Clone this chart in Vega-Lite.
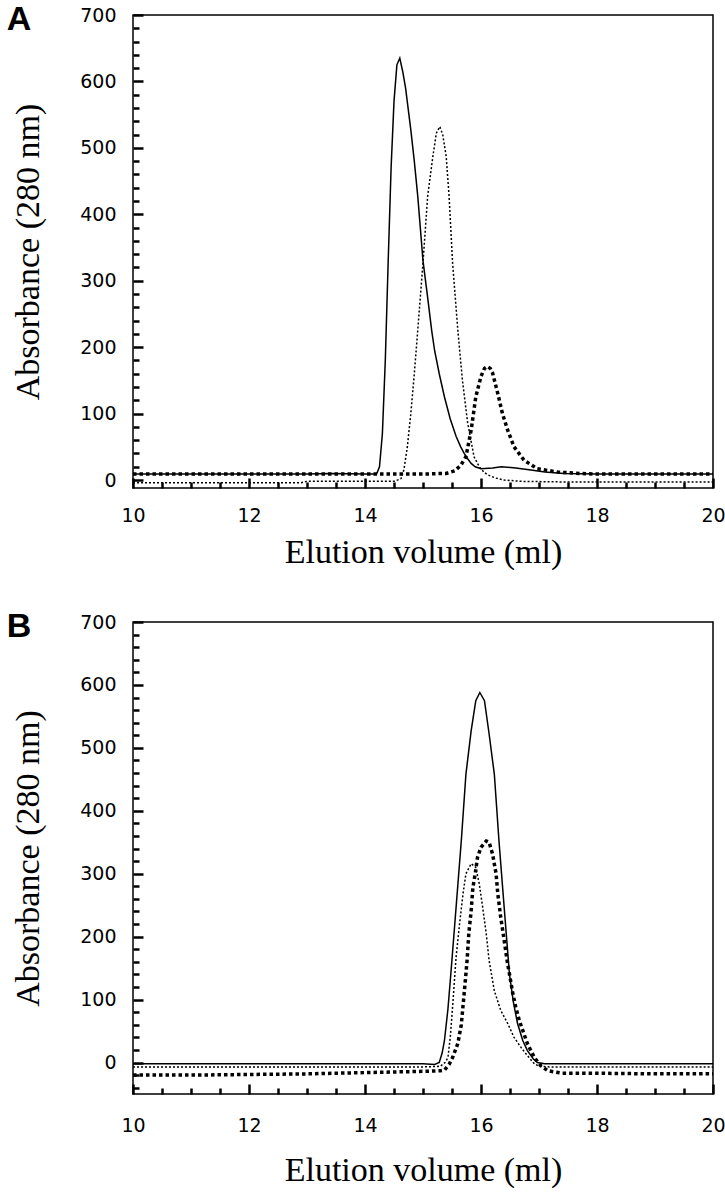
{
  "$schema": "https://vega.github.io/schema/vega-lite/v6.json",
  "padding": {"left": 5, "top": 2, "right": 0, "bottom": 0},
  "background": "white",
  "spacing": 39,
  "config": {
    "view": {"stroke": "black", "strokeWidth": 1.5},
    "axis": {"domain": false, "grid": false, "ticks": true, "tickColor": "black", "tickWidth": 2.5, "tickOpacity": 1, "labelColor": "black", "labelFont": "DejaVu Sans", "labelFontSize": 19, "titleFont": "Liberation Serif", "titleFontSize": 34, "titleFontWeight": "normal", "titleColor": "black", "labelFlush": false, "labelOverlap": false, "labelBound": false, "zindex": 2},
    "title": {"font": "Liberation Sans", "fontSize": 34, "fontWeight": "bold", "color": "black", "anchor": "start", "frame": "bounds", "offset": 6, "dx": -5, "dy": 37}
  },
  "datasets": {
    "a": [
      {"s":"solid","x":10,"y":9},{"s":"solid","x":11,"y":9},{"s":"solid","x":12,"y":9},{"s":"solid","x":13,"y":9},{"s":"solid","x":13.4,"y":10},{"s":"solid","x":13.7,"y":9.5},{"s":"solid","x":14,"y":9},{"s":"solid","x":14.2,"y":9},{"s":"solid","x":14.25,"y":20},{"s":"solid","x":14.3,"y":70},{"s":"solid","x":14.35,"y":180},{"s":"solid","x":14.4,"y":330},{"s":"solid","x":14.45,"y":470},{"s":"solid","x":14.5,"y":570},{"s":"solid","x":14.55,"y":625},{"s":"solid","x":14.6,"y":635},{"s":"solid","x":14.65,"y":615},{"s":"solid","x":14.7,"y":590},{"s":"solid","x":14.75,"y":555},{"s":"solid","x":14.79,"y":527},{"s":"solid","x":14.85,"y":480},{"s":"solid","x":14.91,"y":427},{"s":"solid","x":15.0,"y":330},{"s":"solid","x":15.08,"y":275},{"s":"solid","x":15.15,"y":225},{"s":"solid","x":15.2,"y":195},{"s":"solid","x":15.28,"y":160},{"s":"solid","x":15.37,"y":125},{"s":"solid","x":15.47,"y":92},{"s":"solid","x":15.57,"y":66},{"s":"solid","x":15.65,"y":50},{"s":"solid","x":15.71,"y":40},{"s":"solid","x":15.77,"y":32},{"s":"solid","x":15.83,"y":25},{"s":"solid","x":15.9,"y":20},{"s":"solid","x":16.0,"y":17},{"s":"solid","x":16.2,"y":18},{"s":"solid","x":16.35,"y":20},{"s":"solid","x":16.6,"y":18},{"s":"solid","x":16.86,"y":15},{"s":"solid","x":17.1,"y":12},{"s":"solid","x":17.43,"y":10},{"s":"solid","x":18,"y":9},{"s":"solid","x":19,"y":9},{"s":"solid","x":20,"y":9},
      {"s":"dotted","x":10,"y":-4},{"s":"dotted","x":11,"y":-4},{"s":"dotted","x":12,"y":-4},{"s":"dotted","x":12.9,"y":-4},{"s":"dotted","x":13.0,"y":-2},{"s":"dotted","x":14,"y":-2},{"s":"dotted","x":14.5,"y":-2},{"s":"dotted","x":14.62,"y":2},{"s":"dotted","x":14.67,"y":15},{"s":"dotted","x":14.73,"y":50},{"s":"dotted","x":14.79,"y":100},{"s":"dotted","x":14.85,"y":160},{"s":"dotted","x":14.91,"y":226},{"s":"dotted","x":15.0,"y":327},{"s":"dotted","x":15.08,"y":427},{"s":"dotted","x":15.17,"y":487},{"s":"dotted","x":15.23,"y":522},{"s":"dotted","x":15.29,"y":532},{"s":"dotted","x":15.34,"y":520},{"s":"dotted","x":15.4,"y":487},{"s":"dotted","x":15.45,"y":427},{"s":"dotted","x":15.51,"y":327},{"s":"dotted","x":15.6,"y":226},{"s":"dotted","x":15.68,"y":150},{"s":"dotted","x":15.77,"y":86},{"s":"dotted","x":15.88,"y":35},{"s":"dotted","x":15.97,"y":20},{"s":"dotted","x":16.05,"y":12},{"s":"dotted","x":16.11,"y":8},{"s":"dotted","x":16.25,"y":3},{"s":"dotted","x":16.4,"y":0},{"s":"dotted","x":16.7,"y":-2},{"s":"dotted","x":17.5,"y":-3},{"s":"dotted","x":20,"y":-3},
      {"s":"thick","x":10,"y":9},{"s":"thick","x":12,"y":9},{"s":"thick","x":14,"y":9},{"s":"thick","x":15,"y":9},{"s":"thick","x":15.4,"y":10},{"s":"thick","x":15.55,"y":14},{"s":"thick","x":15.65,"y":22},{"s":"thick","x":15.74,"y":35},{"s":"thick","x":15.83,"y":75},{"s":"thick","x":15.91,"y":125},{"s":"thick","x":16.0,"y":156},{"s":"thick","x":16.06,"y":168},{"s":"thick","x":16.11,"y":171},{"s":"thick","x":16.16,"y":168},{"s":"thick","x":16.2,"y":161},{"s":"thick","x":16.29,"y":130},{"s":"thick","x":16.37,"y":100},{"s":"thick","x":16.46,"y":75},{"s":"thick","x":16.57,"y":50},{"s":"thick","x":16.74,"y":30},{"s":"thick","x":16.97,"y":17},{"s":"thick","x":17.32,"y":12},{"s":"thick","x":17.7,"y":10},{"s":"thick","x":18,"y":9},{"s":"thick","x":20,"y":9}
    ],
    "b": [
      {"s":"solid","x":10,"y":-2},{"s":"solid","x":12,"y":-2},{"s":"solid","x":14,"y":-2},{"s":"solid","x":15,"y":-2},{"s":"solid","x":15.2,"y":-3},{"s":"solid","x":15.28,"y":0},{"s":"solid","x":15.33,"y":15},{"s":"solid","x":15.37,"y":35},{"s":"solid","x":15.43,"y":85},{"s":"solid","x":15.48,"y":141},{"s":"solid","x":15.57,"y":246},{"s":"solid","x":15.66,"y":352},{"s":"solid","x":15.74,"y":458},{"s":"solid","x":15.83,"y":527},{"s":"solid","x":15.91,"y":575},{"s":"solid","x":15.98,"y":588},{"s":"solid","x":16.06,"y":575},{"s":"solid","x":16.14,"y":522},{"s":"solid","x":16.23,"y":458},{"s":"solid","x":16.31,"y":352},{"s":"solid","x":16.4,"y":246},{"s":"solid","x":16.49,"y":141},{"s":"solid","x":16.56,"y":95},{"s":"solid","x":16.63,"y":62},{"s":"solid","x":16.72,"y":35},{"s":"solid","x":16.8,"y":19},{"s":"solid","x":16.9,"y":6},{"s":"solid","x":16.97,"y":0},{"s":"solid","x":17.1,"y":-2},{"s":"solid","x":18,"y":-2},{"s":"solid","x":20,"y":-2},
      {"s":"dotted","x":10,"y":-7},{"s":"dotted","x":12,"y":-7},{"s":"dotted","x":14,"y":-7},{"s":"dotted","x":15,"y":-7},{"s":"dotted","x":15.3,"y":-6},{"s":"dotted","x":15.38,"y":0},{"s":"dotted","x":15.43,"y":8},{"s":"dotted","x":15.47,"y":40},{"s":"dotted","x":15.51,"y":88},{"s":"dotted","x":15.57,"y":167},{"s":"dotted","x":15.63,"y":220},{"s":"dotted","x":15.69,"y":268},{"s":"dotted","x":15.74,"y":300},{"s":"dotted","x":15.83,"y":316},{"s":"dotted","x":15.91,"y":310},{"s":"dotted","x":15.97,"y":284},{"s":"dotted","x":16.03,"y":246},{"s":"dotted","x":16.09,"y":205},{"s":"dotted","x":16.14,"y":162},{"s":"dotted","x":16.23,"y":114},{"s":"dotted","x":16.34,"y":83},{"s":"dotted","x":16.46,"y":62},{"s":"dotted","x":16.57,"y":40},{"s":"dotted","x":16.69,"y":24},{"s":"dotted","x":16.8,"y":11},{"s":"dotted","x":16.92,"y":-2},{"s":"dotted","x":17.0,"y":-6},{"s":"dotted","x":17.2,"y":-7},{"s":"dotted","x":20,"y":-7},
      {"s":"thick","x":10,"y":-20},{"s":"thick","x":11,"y":-20},{"s":"thick","x":12,"y":-19},{"s":"thick","x":13,"y":-18},{"s":"thick","x":14,"y":-16},{"s":"thick","x":15,"y":-14},{"s":"thick","x":15.3,"y":-13},{"s":"thick","x":15.37,"y":-12},{"s":"thick","x":15.45,"y":-3},{"s":"thick","x":15.51,"y":8},{"s":"thick","x":15.6,"y":30},{"s":"thick","x":15.66,"y":60},{"s":"thick","x":15.72,"y":120},{"s":"thick","x":15.76,"y":162},{"s":"thick","x":15.79,"y":205},{"s":"thick","x":15.83,"y":241},{"s":"thick","x":15.86,"y":278},{"s":"thick","x":15.9,"y":300},{"s":"thick","x":15.94,"y":326},{"s":"thick","x":16.0,"y":342},{"s":"thick","x":16.09,"y":352},{"s":"thick","x":16.14,"y":350},{"s":"thick","x":16.2,"y":331},{"s":"thick","x":16.26,"y":300},{"s":"thick","x":16.29,"y":268},{"s":"thick","x":16.34,"y":231},{"s":"thick","x":16.4,"y":194},{"s":"thick","x":16.45,"y":162},{"s":"thick","x":16.49,"y":141},{"s":"thick","x":16.55,"y":109},{"s":"thick","x":16.6,"y":88},{"s":"thick","x":16.66,"y":67},{"s":"thick","x":16.72,"y":51},{"s":"thick","x":16.8,"y":30},{"s":"thick","x":16.92,"y":8},{"s":"thick","x":17.03,"y":-5},{"s":"thick","x":17.15,"y":-13},{"s":"thick","x":17.4,"y":-17},{"s":"thick","x":18,"y":-17},{"s":"thick","x":19,"y":-18},{"s":"thick","x":20,"y":-18}
    ]
  },
  "vconcat": [
    {
      "title": "A",
      "width": 580,
      "height": 473,
      "data": {"name": "a"},
      "layer": [
        {
          "transform": [{"filter": "datum.s === 'solid'"}],
          "mark": {"type": "line", "color": "black", "strokeWidth": 1.5, "clip": true},
          "encoding": {
            "x": {"field": "x", "type": "quantitative", "scale": {"domain": [10, 20], "nice": false, "zero": false},
              "axis": {"orient": "bottom", "values": [10, 12, 14, 16, 18, 20], "offset": -10, "tickSize": 10, "labelPadding": 18, "title": "Elution volume (ml)", "titlePadding": 10}},
            "y": {"field": "y", "type": "quantitative", "scale": {"domain": [-12, 700], "nice": false, "zero": false},
              "axis": {"orient": "left", "values": [0, 100, 200, 300, 400, 500, 600, 700], "offset": -10, "tickSize": 10, "labelPadding": 17, "title": "Absorbance (280 nm)", "titlePadding": 34}}
          }
        },
        {
          "transform": [{"filter": "datum.s === 'dotted'"}],
          "mark": {"type": "line", "color": "black", "strokeWidth": 1.5, "strokeDash": [2, 2], "clip": true},
          "encoding": {
            "x": {"field": "x", "type": "quantitative", "axis": null},
            "y": {"field": "y", "type": "quantitative", "axis": null}
          }
        },
        {
          "transform": [{"filter": "datum.s === 'thick'"}],
          "mark": {"type": "line", "color": "black", "strokeWidth": 3.5, "strokeDash": [3.5, 3], "clip": true},
          "encoding": {
            "x": {"field": "x", "type": "quantitative", "axis": null},
            "y": {"field": "y", "type": "quantitative", "axis": null}
          }
        },
        {
          "mark": {"type": "point", "opacity": 0},
          "encoding": {
            "x": {"field": "x", "type": "quantitative",
              "axis": {"orient": "bottom", "values": [10.5, 11, 11.5, 12.5, 13, 13.5, 14.5, 15, 15.5, 16.5, 17, 17.5, 18.5, 19, 19.5], "offset": -6, "tickSize": 6, "labels": false, "title": null}},
            "y": {"field": "y", "type": "quantitative",
              "axis": {"orient": "left", "values": [20, 40, 60, 80, 120, 140, 160, 180, 220, 240, 260, 280, 320, 340, 360, 380, 420, 440, 460, 480, 520, 540, 560, 580, 620, 640, 660, 680], "offset": -6, "tickSize": 6, "labels": false, "title": null}}
          }
        }
      ],
      "resolve": {"axis": {"x": "independent", "y": "independent"}}
    },
    {
      "title": "B",
      "width": 580,
      "height": 472,
      "data": {"name": "b"},
      "layer": [
        {
          "transform": [{"filter": "datum.s === 'solid'"}],
          "mark": {"type": "line", "color": "black", "strokeWidth": 1.5, "clip": true},
          "encoding": {
            "x": {"field": "x", "type": "quantitative", "scale": {"domain": [10, 20], "nice": false, "zero": false},
              "axis": {"orient": "bottom", "values": [10, 12, 14, 16, 18, 20], "offset": -10, "tickSize": 10, "labelPadding": 22, "title": "Elution volume (ml)", "titlePadding": 18}},
            "y": {"field": "y", "type": "quantitative", "scale": {"domain": [-50, 700], "nice": false, "zero": false},
              "axis": {"orient": "left", "values": [0, 100, 200, 300, 400, 500, 600, 700], "offset": -10, "tickSize": 10, "labelPadding": 17, "title": "Absorbance (280 nm)", "titlePadding": 34}}
          }
        },
        {
          "transform": [{"filter": "datum.s === 'dotted'"}],
          "mark": {"type": "line", "color": "black", "strokeWidth": 1.5, "strokeDash": [2, 2], "clip": true},
          "encoding": {
            "x": {"field": "x", "type": "quantitative", "axis": null},
            "y": {"field": "y", "type": "quantitative", "axis": null}
          }
        },
        {
          "transform": [{"filter": "datum.s === 'thick'"}],
          "mark": {"type": "line", "color": "black", "strokeWidth": 3.5, "strokeDash": [3.5, 3], "clip": true},
          "encoding": {
            "x": {"field": "x", "type": "quantitative", "axis": null},
            "y": {"field": "y", "type": "quantitative", "axis": null}
          }
        },
        {
          "mark": {"type": "point", "opacity": 0},
          "encoding": {
            "x": {"field": "x", "type": "quantitative",
              "axis": {"orient": "bottom", "values": [10.5, 11, 11.5, 12.5, 13, 13.5, 14.5, 15, 15.5, 16.5, 17, 17.5, 18.5, 19, 19.5], "offset": -6, "tickSize": 6, "labels": false, "title": null}},
            "y": {"field": "y", "type": "quantitative",
              "axis": {"orient": "left", "values": [-40, -20, 20, 40, 60, 80, 120, 140, 160, 180, 220, 240, 260, 280, 320, 340, 360, 380, 420, 440, 460, 480, 520, 540, 560, 580, 620, 640, 660, 680], "offset": -6, "tickSize": 6, "labels": false, "title": null}}
          }
        }
      ],
      "resolve": {"axis": {"x": "independent", "y": "independent"}}
    }
  ]
}
